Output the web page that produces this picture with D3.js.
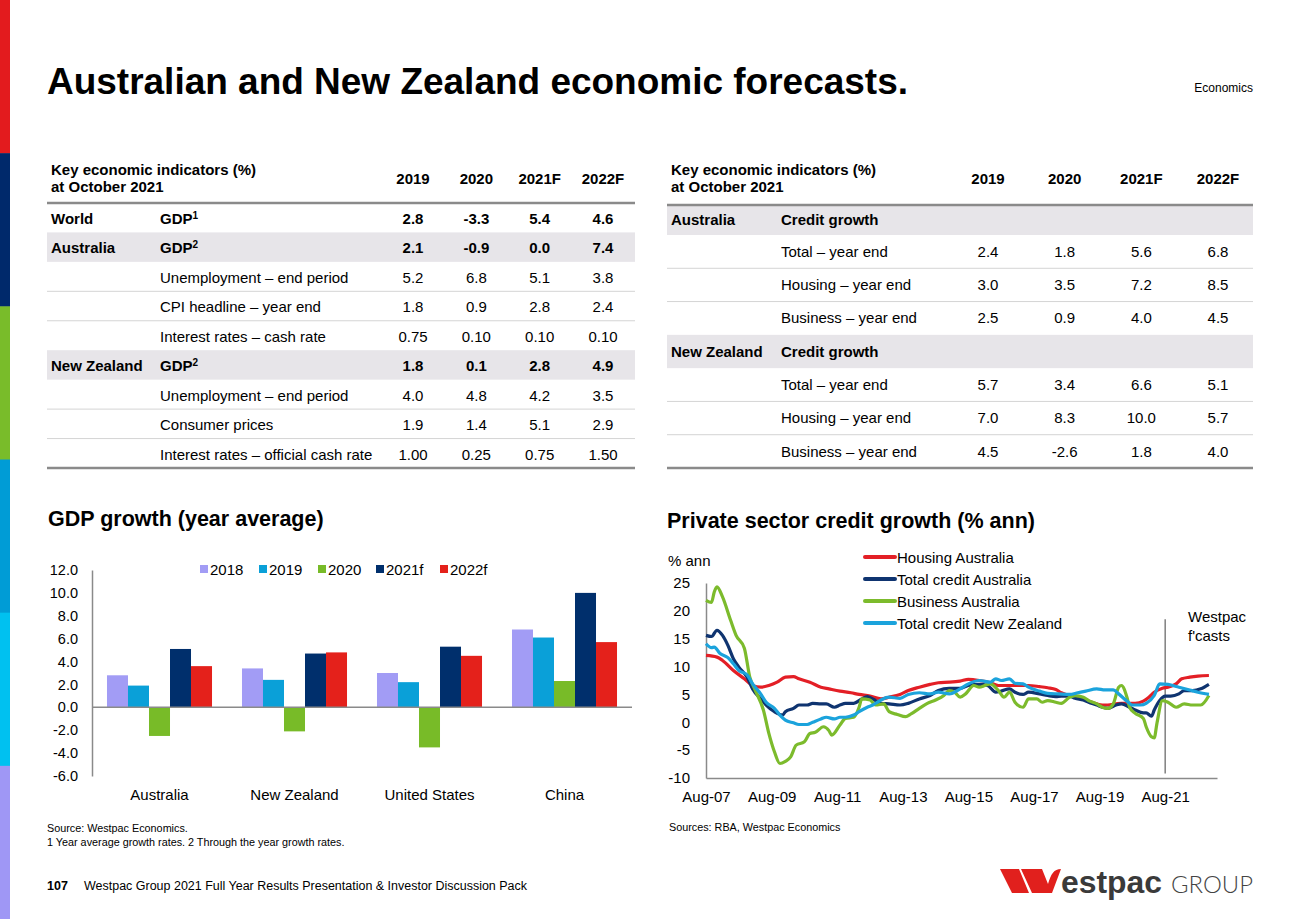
<!DOCTYPE html>
<html><head><meta charset="utf-8">
<script src="https://cdn.jsdelivr.net/npm/d3@7"></script>
<style>
html,body{margin:0;padding:0;background:#fff;}
svg{display:block;font-family:"Liberation Sans",Arial,Helvetica,sans-serif;}
</style></head><body>
<svg id="c" width="1300" height="919"></svg>
<script>
// ---------------- DATA ----------------
const stripeColors = ["#e31b1e", "#00296b", "#79bc2a", "#009cd6", "#00c1f0", "#9f97f5"];

const tableYears = ["2019", "2020", "2021F", "2022F"];

const leftRegions = ["World", "Australia", "", "", "", "New Zealand", "", "", ""];
const leftItems = ["GDP", "GDP", "Unemployment – end period", "CPI headline – year end", "Interest rates – cash rate",
  "GDP", "Unemployment – end period", "Consumer prices", "Interest rates – official cash rate"];
const leftSups = ["1", "2", "", "", "", "2", "", "", ""];
const leftValues = [
  ["2.8", "-3.3", "5.4", "4.6"],
  ["2.1", "-0.9", "0.0", "7.4"],
  ["5.2", "6.8", "5.1", "3.8"],
  ["1.8", "0.9", "2.8", "2.4"],
  ["0.75", "0.10", "0.10", "0.10"],
  ["1.8", "0.1", "2.8", "4.9"],
  ["4.0", "4.8", "4.2", "3.5"],
  ["1.9", "1.4", "5.1", "2.9"],
  ["1.00", "0.25", "0.75", "1.50"]
];
const leftBold = [true, true, false, false, false, true, false, false, false];
const leftShaded = [false, true, false, false, false, true, false, false, false];

const rightRegions = ["Australia", "", "", "", "New Zealand", "", "", ""];
const rightItems = ["Credit growth", "Total – year end", "Housing – year end", "Business – year end",
  "Credit growth", "Total – year end", "Housing – year end", "Business – year end"];
const rightValues = [
  ["", "", "", ""],
  ["2.4", "1.8", "5.6", "6.8"],
  ["3.0", "3.5", "7.2", "8.5"],
  ["2.5", "0.9", "4.0", "4.5"],
  ["", "", "", ""],
  ["5.7", "3.4", "6.6", "5.1"],
  ["7.0", "8.3", "10.0", "5.7"],
  ["4.5", "-2.6", "1.8", "4.0"]
];
const rightShaded = [true, false, false, false, true, false, false, false];

// GDP growth bar chart
const gdpCountries = ["Australia", "New Zealand", "United States", "China"];
const gdpSeries = ["2018", "2019", "2020", "2021f", "2022f"];
const gdp2018 = [2.8, 3.4, 3.0, 6.8];
const gdp2019 = [1.9, 2.4, 2.2, 6.1];
const gdp2020 = [-2.5, -2.1, -3.5, 2.3];
const gdp2021f = [5.1, 4.7, 5.3, 10.0];
const gdp2022f = [3.6, 4.8, 4.5, 5.7];
const gdpTicks = [-6, -4, -2, 0, 2, 4, 6, 8, 10, 12];

// Private sector credit growth (% ann)
const housingAus = [
  ["2007-08", 12.0], ["2007-12", 11.7], ["2008-02", 11.1], ["2008-06", 9.3], ["2008-10", 7.8], ["2009-01", 6.6],
  ["2009-04", 6.3], ["2009-07", 6.6], ["2009-10", 7.2], ["2010-01", 8.1], ["2010-04", 8.2], ["2010-06", 7.8],
  ["2010-10", 7.2], ["2011-02", 6.3], ["2011-05", 6.0], ["2011-09", 5.6], ["2012-01", 5.3], ["2012-04", 5.0],
  ["2012-08", 4.7], ["2012-12", 4.2], ["2013-03", 4.5], ["2013-07", 5.0], ["2013-10", 5.7], ["2014-02", 6.3],
  ["2014-06", 6.8], ["2014-09", 7.1], ["2015-01", 7.2], ["2015-05", 7.4], ["2015-08", 7.7], ["2015-12", 7.5],
  ["2016-04", 7.1], ["2016-07", 6.6], ["2016-11", 6.6], ["2017-03", 6.6], ["2017-06", 6.6], ["2017-10", 6.4],
  ["2018-01", 6.2], ["2018-04", 5.9], ["2018-06", 5.3], ["2018-09", 4.8], ["2018-11", 4.7], ["2019-02", 4.2],
  ["2019-04", 3.8], ["2019-07", 3.3], ["2019-09", 3.1], ["2019-11", 3.1], ["2020-02", 3.3], ["2020-04", 3.4],
  ["2020-07", 3.4], ["2020-09", 3.4], ["2020-12", 3.8], ["2021-02", 4.5], ["2021-04", 5.4], ["2021-07", 6.1],
  ["2021-09", 6.3], ["2021-12", 6.9], ["2022-02", 7.8], ["2022-05", 8.1], ["2022-08", 8.3], ["2022-12", 8.4]
];
const totalAus = [
  ["2007-08", 15.6], ["2007-10", 15.4], ["2007-12", 16.5], ["2008-02", 15.6], ["2008-04", 13.8], ["2008-06", 11.4],
  ["2008-08", 9.9], ["2008-11", 8.1], ["2009-01", 6.0], ["2009-04", 4.2], ["2009-06", 3.1], ["2009-09", 1.9],
  ["2009-12", 1.3], ["2010-01", 1.9], ["2010-04", 2.5], ["2010-06", 3.1], ["2010-09", 3.1], ["2010-11", 3.4],
  ["2011-02", 3.3], ["2011-04", 3.3], ["2011-07", 2.7], ["2011-09", 3.1], ["2011-11", 3.4], ["2012-02", 3.4],
  ["2012-05", 4.2], ["2012-07", 4.6], ["2012-09", 4.2], ["2012-12", 3.4], ["2013-03", 3.3], ["2013-07", 3.1],
  ["2013-10", 3.4], ["2014-02", 4.2], ["2014-06", 4.8], ["2014-09", 5.7], ["2015-01", 6.1], ["2015-05", 6.1],
  ["2015-08", 6.6], ["2015-12", 6.8], ["2016-03", 6.6], ["2016-06", 5.4], ["2016-08", 5.6], ["2016-11", 6.0],
  ["2017-01", 5.4], ["2017-04", 5.0], ["2017-06", 5.4], ["2017-10", 5.1], ["2018-01", 4.8], ["2018-04", 4.6],
  ["2018-06", 4.7], ["2018-09", 4.7], ["2018-11", 4.3], ["2019-02", 4.0], ["2019-04", 3.6], ["2019-07", 3.1],
  ["2019-09", 2.7], ["2019-11", 2.5], ["2020-02", 3.1], ["2020-04", 3.3], ["2020-07", 2.7], ["2020-09", 2.2],
  ["2020-12", 1.7], ["2021-01", 1.7], ["2021-03", 1.1], ["2021-04", 2.2], ["2021-06", 3.9], ["2021-08", 4.7],
  ["2021-10", 4.7], ["2022-01", 5.1], ["2022-03", 5.7], ["2022-06", 5.7], ["2022-09", 6.0], ["2022-12", 6.8]
];
const businessAus = [
  ["2007-08", 21.9], ["2007-10", 21.5], ["2007-11", 23.4], ["2007-12", 24.3], ["2008-02", 22.5], ["2008-05", 18.3],
  ["2008-07", 15.6], ["2008-10", 13.3], ["2008-12", 8.1], ["2009-02", 5.7], ["2009-05", 2.2], ["2009-07", -2.0],
  ["2009-09", -5.3], ["2009-11", -7.4], ["2010-01", -7.0], ["2010-03", -6.2], ["2010-05", -4.1], ["2010-08", -3.5],
  ["2010-10", -2.0], ["2010-12", -1.8], ["2011-03", -0.8], ["2011-05", -1.5], ["2011-06", -2.3], ["2011-09", -0.5],
  ["2011-11", 0.7], ["2012-02", 0.9], ["2012-04", 2.7], ["2012-05", 4.2], ["2012-08", 4.0], ["2012-10", 3.1],
  ["2013-01", 3.3], ["2013-03", 1.9], ["2013-06", 1.4], ["2013-09", 1.0], ["2013-11", 1.5], ["2014-02", 2.5],
  ["2014-05", 3.4], ["2014-08", 4.0], ["2014-11", 4.8], ["2015-01", 5.7], ["2015-03", 5.4], ["2015-05", 4.5],
  ["2015-07", 5.1], ["2015-10", 6.6], ["2015-12", 6.3], ["2016-02", 6.6], ["2016-04", 6.9], ["2016-07", 5.7],
  ["2016-09", 4.5], ["2016-11", 5.4], ["2017-01", 3.6], ["2017-04", 2.7], ["2017-06", 4.2], ["2017-09", 4.2],
  ["2017-11", 3.6], ["2018-01", 3.9], ["2018-04", 3.6], ["2018-06", 3.4], ["2018-09", 4.5], ["2018-11", 4.8],
  ["2019-02", 4.5], ["2019-04", 3.9], ["2019-07", 3.3], ["2019-09", 2.7], ["2019-11", 2.5], ["2020-01", 3.3],
  ["2020-03", 6.3], ["2020-04", 6.6], ["2020-06", 4.5], ["2020-07", 2.7], ["2020-09", 1.6], ["2020-12", 0.7],
  ["2021-01", -0.8], ["2021-03", -2.6], ["2021-04", -2.8], ["2021-05", -0.2], ["2021-07", 3.9], ["2021-09", 3.6],
  ["2021-12", 2.7], ["2022-03", 3.3], ["2022-06", 3.1], ["2022-09", 3.1], ["2022-12", 4.8]
];
const totalNZ = [
  ["2007-08", 14.1], ["2007-10", 13.4], ["2007-11", 13.5], ["2008-01", 12.4], ["2008-04", 11.6], ["2008-06", 10.5],
  ["2008-08", 9.3], ["2008-11", 8.5], ["2009-01", 6.9], ["2009-04", 5.1], ["2009-06", 3.6], ["2009-09", 2.5],
  ["2009-11", 1.3], ["2010-01", 0.4], ["2010-04", -0.1], ["2010-06", -0.4], ["2010-09", -0.4], ["2010-11", 0.0],
  ["2011-02", 0.6], ["2011-04", 0.9], ["2011-07", 0.6], ["2011-09", 0.9], ["2011-11", 0.9], ["2012-02", 1.3],
  ["2012-04", 1.9], ["2012-07", 2.7], ["2012-09", 3.1], ["2012-12", 4.0], ["2013-03", 4.5], ["2013-07", 4.3],
  ["2013-10", 5.0], ["2014-02", 5.3], ["2014-06", 5.1], ["2014-09", 5.4], ["2015-01", 5.1], ["2015-05", 6.0],
  ["2015-08", 6.9], ["2015-12", 7.5], ["2016-04", 7.2], ["2016-06", 7.8], ["2016-08", 7.5], ["2016-11", 7.8],
  ["2017-01", 7.0], ["2017-04", 6.9], ["2017-06", 6.3], ["2017-10", 5.6], ["2018-01", 5.2], ["2018-05", 5.1],
  ["2018-09", 5.0], ["2018-12", 5.3], ["2019-03", 5.6], ["2019-07", 6.0], ["2019-10", 5.8], ["2020-01", 5.8],
  ["2020-03", 5.1], ["2020-06", 3.8], ["2020-08", 3.1], ["2020-11", 3.1], ["2021-01", 3.4], ["2021-04", 4.8],
  ["2021-06", 6.9], ["2021-09", 6.8], ["2022-01", 6.3], ["2022-05", 5.8], ["2022-08", 5.4], ["2022-12", 5.0]
];
const creditNames = ["Housing Australia", "Total credit Australia", "Business Australia", "Total credit New Zealand"];
const creditTicks = [-10, -5, 0, 5, 10, 15, 20, 25];
const creditDateLabels = ["2007-08", "2009-08", "2011-08", "2013-08", "2015-08", "2017-08", "2019-08", "2021-08"];
const forecastStart = "2021-08";

// ---------------- DRAW ----------------
const svg = d3.select("#c");
const FONT = '"Liberation Sans",Arial,Helvetica,sans-serif';

// left stripe
const stripeY = d3.scaleBand().domain(d3.range(stripeColors.length)).range([0, 919]);
svg.selectAll("rect.stripe").data(stripeColors).join("rect")
  .attr("x", 0).attr("y", (d, i) => stripeY(i)).attr("width", 10).attr("height", stripeY.bandwidth() + 0.5)
  .attr("fill", d => d);

// titles
svg.append("text").attr("x", 47).attr("y", 93.5).attr("font-size", 37.5).attr("font-weight", "bold")
  .attr("textLength", 861).attr("lengthAdjust", "spacingAndGlyphs")
  .attr("fill", "#000").text("Australian and New Zealand economic forecasts.");
svg.append("text").attr("x", 1253).attr("y", 92).attr("font-size", 12).attr("text-anchor", "end")
  .attr("fill", "#000").text("Economics");

// ---------- tables ----------
function drawTable(opt) {
  const g = svg.append("g");
  const n = opt.items.length;
  const restY = d3.scaleLinear().domain([1, n]).range([opt.firstBottom, opt.bottom]);
  const top = i => (i === 0 ? opt.top : restY(i));
  const bottom = i => restY(i + 1);
  const colX = d3.scalePoint().domain(tableYears).range(opt.cols);
  // header
  g.append("text").attr("x", opt.x0 + 4).attr("y", 175).attr("font-size", 15).attr("font-weight", "bold")
    .text("Key economic indicators (%)");
  g.append("text").attr("x", opt.x0 + 4).attr("y", 192).attr("font-size", 15).attr("font-weight", "bold")
    .text("at October 2021");
  g.selectAll("text.yr").data(tableYears).join("text").attr("class", "yr")
    .attr("x", d => colX(d)).attr("y", 184).attr("text-anchor", "middle")
    .attr("font-size", 15).attr("font-weight", "bold").text(d => d);
  // shaded rows
  opt.items.forEach((it, i) => {
    if (opt.shaded[i]) g.append("rect").attr("x", opt.x0).attr("y", top(i)).attr("width", opt.x1 - opt.x0)
      .attr("height", bottom(i) - top(i)).attr("fill", "#e7e5e9");
  });
  // separators
  opt.items.forEach((it, i) => {
    if (i > 0 && !opt.shaded[i] && !opt.shaded[i - 1] && opt.regions[i] === "") {
      g.append("line").attr("x1", opt.x0).attr("x2", opt.x1).attr("y1", top(i)).attr("y2", top(i))
        .attr("stroke", "#d4d4d4").attr("stroke-width", 1);
    }
  });
  g.append("line").attr("x1", opt.x0).attr("x2", opt.x1).attr("y1", opt.top).attr("y2", opt.top)
    .attr("stroke", "#8a8a8a").attr("stroke-width", 2.5);
  g.append("line").attr("x1", opt.x0).attr("x2", opt.x1).attr("y1", opt.bottom).attr("y2", opt.bottom)
    .attr("stroke", "#8a8a8a").attr("stroke-width", 2.5);
  // rows
  opt.items.forEach((it, i) => {
    const cy = (top(i) + bottom(i)) / 2 + opt.dy;
    if (opt.regions[i]) g.append("text").attr("x", opt.x0 + 4).attr("y", cy).attr("dy", "0.35em")
      .attr("font-size", 15).attr("font-weight", "bold").text(opt.regions[i]);
    const t = g.append("text").attr("x", opt.itemX).attr("y", cy).attr("dy", "0.35em").attr("font-size", 15)
      .attr("font-weight", opt.boldItem[i] ? "bold" : "normal").text(it);
    if (opt.sups && opt.sups[i]) t.append("tspan").attr("font-size", 10).attr("dy", "-0.5em").text(opt.sups[i]);
    g.selectAll(null).data(opt.values[i]).join("text")
      .attr("x", (d, j) => colX(tableYears[j])).attr("y", cy).attr("dy", "0.35em").attr("text-anchor", "middle")
      .attr("font-size", 15).attr("font-weight", opt.boldVal[i] ? "bold" : "normal").text(d => d);
  });
}
drawTable({
  x0: 47, x1: 635, top: 203, firstBottom: 232.4, bottom: 468, cols: [413, 603], itemX: 160, dy: 1,
  regions: leftRegions, items: leftItems, sups: leftSups, values: leftValues,
  shaded: leftShaded, boldItem: leftBold, boldVal: leftBold
});
drawTable({
  x0: 667, x1: 1253, top: 205, firstBottom: 235, bottom: 468, cols: [988, 1218], itemX: 781, dy: 0,
  regions: rightRegions, items: rightItems, sups: null, values: rightValues,
  shaded: rightShaded, boldItem: rightShaded, boldVal: rightShaded
});

// ---------- GDP bar chart ----------
svg.append("text").attr("x", 48).attr("y", 526).attr("font-size", 21.5).attr("font-weight", "bold")
  .text("GDP growth (year average)");
const gdpValues = [gdp2018, gdp2019, gdp2020, gdp2021f, gdp2022f];
const gdpColors = ["#a29cf5", "#0aa0d8", "#78bb28", "#002f6c", "#e4211b"];
const bx0 = d3.scaleBand().domain(gdpCountries).range([92, 632]).paddingInner(0.222).paddingOuter(0.111);
const bx1 = d3.scaleBand().domain(gdpSeries).range([0, bx0.bandwidth()]);
const by = d3.scaleLinear().domain([-6, 12]).range([776, 570]);
const gb = svg.append("g");
gdpSeries.forEach((s, si) => {
  gb.selectAll(null).data(gdpCountries).join("rect")
    .attr("x", c => bx0(c) + bx1(s)).attr("width", bx1.bandwidth())
    .attr("y", (c, ci) => by(Math.max(0, gdpValues[si][ci])))
    .attr("height", (c, ci) => Math.abs(by(gdpValues[si][ci]) - by(0)))
    .attr("fill", gdpColors[si]);
});
const byAxis = gb.append("g").attr("transform", "translate(92,0)")
  .call(d3.axisLeft(by).tickValues(gdpTicks).tickFormat(d => d.toFixed(1)).tickSize(0).tickPadding(14));
byAxis.select(".domain").attr("stroke", "#8a8a8a").attr("stroke-width", 1.5);
byAxis.selectAll("text").attr("font-size", 14.5).attr("font-family", FONT).attr("fill", "#000");
gb.append("line").attr("x1", 92).attr("x2", 632).attr("y1", by(0)).attr("y2", by(0))
  .attr("stroke", "#8a8a8a").attr("stroke-width", 1.5);
gb.selectAll("text.cat").data(gdpCountries).join("text").attr("class", "cat")
  .attr("x", c => bx0(c) + bx0.bandwidth() / 2).attr("y", 800).attr("text-anchor", "middle")
  .attr("font-size", 15).text(c => c);
// legend
const legX = [200, 259, 318, 376, 440];
gdpSeries.forEach((s, i) => {
  gb.append("rect").attr("x", legX[i]).attr("y", 565).attr("width", 8).attr("height", 8).attr("fill", gdpColors[i]);
  gb.append("text").attr("x", legX[i] + 10).attr("y", 574.5).attr("font-size", 15).text(s);
});

// ---------- credit line chart ----------
svg.append("text").attr("x", 667).attr("y", 528).attr("font-size", 21.5).attr("font-weight", "bold")
  .text("Private sector credit growth (% ann)");
const parse = d3.timeParse("%Y-%m");
const lx = d3.scaleTime().domain([parse("2007-08"), parse("2023-03")]).range([706, 1217]);
const ly = d3.scaleLinear().domain([-10, 25]).range([778, 583]);
const gl = svg.append("g");
const lyAxis = gl.append("g").attr("transform", "translate(706,0)")
  .call(d3.axisLeft(ly).tickValues(creditTicks).tickFormat(d => String(d)).tickSize(0).tickPadding(16));
lyAxis.select(".domain").attr("stroke", "#8a8a8a").attr("stroke-width", 1.5);
lyAxis.selectAll("text").attr("font-size", 15).attr("font-family", FONT).attr("fill", "#000");
const lxAxis = gl.append("g").attr("transform", "translate(0,778)")
  .call(d3.axisBottom(lx).tickValues(creditDateLabels.map(parse)).tickFormat(d3.timeFormat("%b-%y"))
    .tickSize(0).tickPadding(13));
lxAxis.select(".domain").attr("stroke", "#8a8a8a").attr("stroke-width", 1.5);
lxAxis.selectAll("text").attr("font-size", 15).attr("font-family", FONT).attr("fill", "#000");
// forecast divider
gl.append("line").attr("x1", lx(parse(forecastStart))).attr("x2", lx(parse(forecastStart)))
  .attr("y1", ly(18.5)).attr("y2", ly(-9.2)).attr("stroke", "#7f7f7f").attr("stroke-width", 1.5);
const creditData = [housingAus, totalAus, businessAus, totalNZ];
const creditColors = ["#e31f26", "#0f3470", "#7cbb2c", "#1ba3dc"];
const line = d3.line().x(d => lx(parse(d[0]))).y(d => ly(d[1])).curve(d3.curveMonotoneX);
creditData.forEach((s, i) => {
  gl.append("path").datum(s).attr("d", line).attr("fill", "none").attr("stroke", creditColors[i])
    .attr("stroke-width", 3.2).attr("stroke-linejoin", "round");
});
gl.append("text").attr("x", 668).attr("y", 566).attr("font-size", 15).text("% ann");
creditNames.forEach((n, i) => {
  const yy = 557 + i * 22;
  gl.append("line").attr("x1", 865).attr("x2", 895).attr("y1", yy).attr("y2", yy)
    .attr("stroke", creditColors[i]).attr("stroke-width", 4).attr("stroke-linecap", "round");
  gl.append("text").attr("x", 897).attr("y", yy + 5.5).attr("font-size", 15).text(n);
});
gl.append("text").attr("x", 1188).attr("y", 622).attr("font-size", 15).text("Westpac");
gl.append("text").attr("x", 1188).attr("y", 641).attr("font-size", 15).text("f'casts");

// ---------- footer ----------
svg.append("text").attr("x", 47).attr("y", 832).attr("font-size", 10.8).text("Source: Westpac Economics.");
svg.append("text").attr("x", 47).attr("y", 846).attr("font-size", 10.8)
  .text("1 Year average growth rates. 2 Through the year growth rates.");
svg.append("text").attr("x", 669).attr("y", 831).attr("font-size", 10.8).text("Sources: RBA, Westpac Economics");
svg.append("text").attr("x", 47).attr("y", 890).attr("font-size", 12.5).attr("font-weight", "bold").text("107");
svg.append("text").attr("x", 84).attr("y", 890).attr("font-size", 12.5)
  .attr("textLength", 443).attr("lengthAdjust", "spacingAndGlyphs")
  .text("Westpac Group 2021 Full Year Results Presentation & Investor Discussion Pack");

// logo
const logo = svg.append("g");
logo.append("path").attr("d", "M1000,869 L1019,869 L1029,893 L1012,893 Z").attr("fill", "#e1201d");
logo.append("path").attr("d", "M1021,869 L1042,869 L1048,884 C1051,874 1054,869 1061,869 L1052,893 L1032,893 Z")
  .attr("fill", "#e1201d");
logo.append("text").attr("x", 1061).attr("y", 893).attr("font-size", 32).attr("font-weight", "bold")
  .attr("fill", "#3a3a3a").attr("textLength", 101).attr("lengthAdjust", "spacingAndGlyphs").text("estpac");
logo.append("text").attr("x", 1171).attr("y", 893).attr("font-size", 24).attr("font-weight", 300)
  .attr("font-family", "Lato,'Open Sans',sans-serif").attr("fill", "#444")
  .attr("textLength", 82).attr("lengthAdjust", "spacingAndGlyphs").text("GROUP");
</script>
</body></html>
